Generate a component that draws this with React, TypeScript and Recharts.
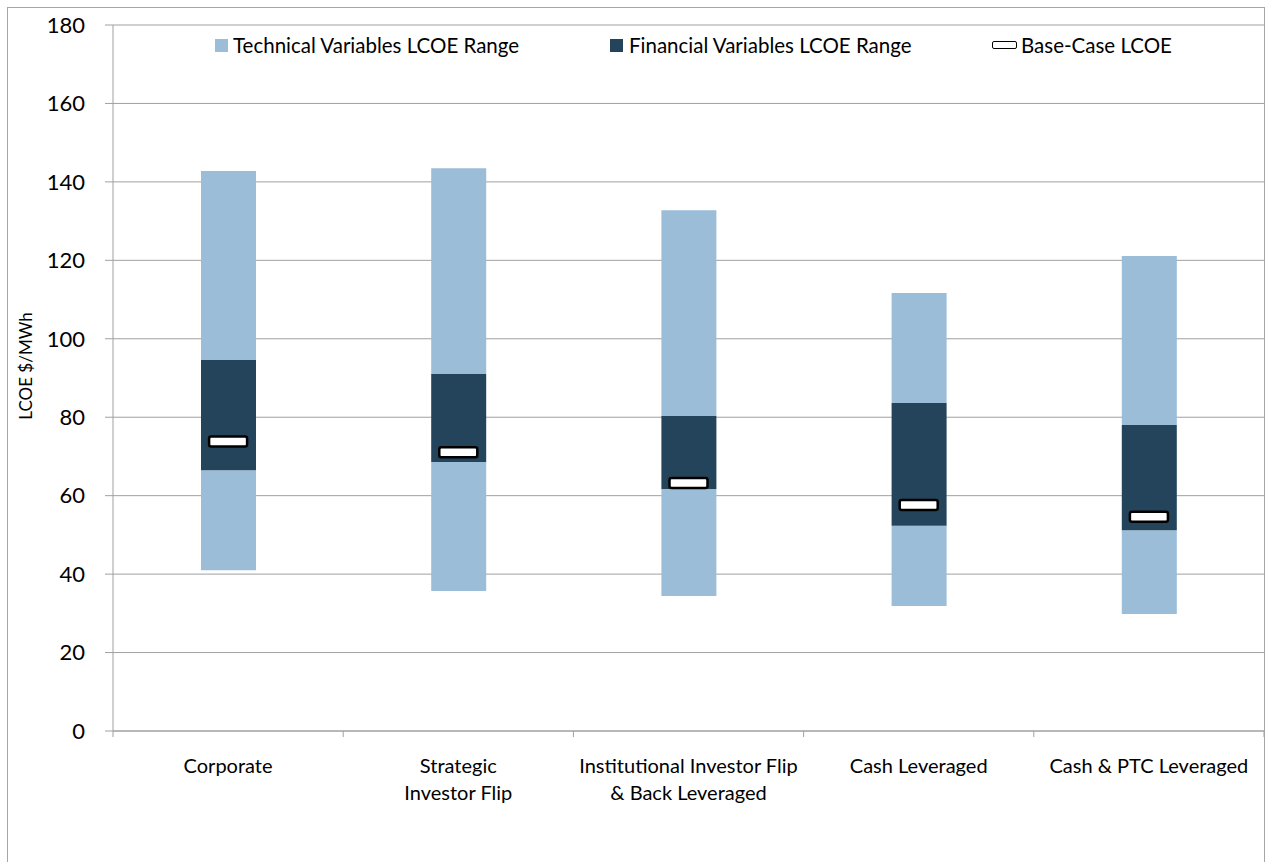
import React from 'react';
import { ComposedChart, Bar, Scatter, XAxis, YAxis, CartesianGrid } from 'recharts';

const categories = [
  'Corporate',
  'Strategic\nInvestor Flip',
  'Institutional Investor Flip\n& Back Leveraged',
  'Cash Leveraged',
  'Cash & PTC Leveraged',
];
const techLow = [41.0, 35.7, 34.4, 31.9, 29.8];
const techHigh = [142.8, 143.5, 132.8, 111.7, 121.1];
const finLow = [66.5, 68.6, 61.7, 52.3, 51.2];
const finHigh = [94.6, 91.0, 80.3, 83.6, 78.0];
const baseCase = [73.8, 71.1, 63.2, 57.6, 54.6];
const yTicks = [0, 20, 40, 60, 80, 100, 120, 140, 160, 180];

const LIGHT = '#9bbdd8';
const DARK = '#24445c';
const GRID = '#a0a0a0';
const FONT = 'Lato, "Open Sans", sans-serif';

const data = categories.map((name, i) => ({
  name,
  spacer: techLow[i],
  techBelow: finLow[i] - techLow[i],
  fin: finHigh[i] - finLow[i],
  techAbove: techHigh[i] - finHigh[i],
  base: baseCase[i],
}));

const W = 1267;
const H = 862;
const PLOT_LEFT = 113;
const PLOT_RIGHT = 1264;
const BAND = (PLOT_RIGHT - PLOT_LEFT) / categories.length;

const XTick = (props: any) => {
  const { x, y, payload, index } = props;
  const lines = String(payload.value).split('\n');
  return (
    <g>
      <line x1={x - BAND / 2} y1={y} x2={x - BAND / 2} y2={y + 6} stroke={GRID} />
      {index === categories.length - 1 && (
        <line x1={x + BAND / 2} y1={y} x2={x + BAND / 2} y2={y + 6} stroke={GRID} />
      )}
      {lines.map((l, i) => (
        <text key={i} x={x} y={y + 42 + i * 27} textAnchor="middle" fontSize={20} fill="#000" fontFamily={FONT}>
          {l}
        </text>
      ))}
    </g>
  );
};

const BaseMarker = (props: any) => {
  const { cx, cy } = props;
  if (cx == null || cy == null) return null;
  return <rect x={cx - 19} y={cy - 5} width={38} height={10} rx={2} fill="#fff" stroke="#000" strokeWidth={2.5} />;
};

const YLabel = () => (
  <text x={32} y={366} transform="rotate(-90 32 366)" textAnchor="middle" fontSize={17} fill="#000" fontFamily={FONT}>
    LCOE $/MWh
  </text>
);

const LegendBox = () => (
  <div style={{ position: 'absolute', left: 0, top: 33, width: W, height: 26, fontFamily: FONT, fontSize: 20.5, color: '#000', lineHeight: '24px' }}>
    <div style={{ position: 'absolute', left: 215, top: 6, width: 13, height: 13, background: LIGHT }} />
    <span style={{ position: 'absolute', left: 233, top: 0 }}>Technical Variables LCOE Range</span>
    <div style={{ position: 'absolute', left: 610, top: 6, width: 13, height: 13, background: DARK }} />
    <span style={{ position: 'absolute', left: 629, top: 0 }}>Financial Variables LCOE Range</span>
    <div style={{ position: 'absolute', left: 992, top: 8, width: 25, height: 8, border: '1.5px solid #000', borderRadius: 2, boxSizing: 'border-box', background: '#fff' }} />
    <span style={{ position: 'absolute', left: 1021, top: 0 }}>Base-Case LCOE</span>
  </div>
);

export default function App() {
  return (
    <div style={{ position: 'absolute', left: 0, top: 0, width: W, height: H, background: '#fff', overflow: 'hidden' }}>
      <div style={{ position: 'absolute', left: 0, top: 0 }}>
        <ComposedChart width={W} height={H} data={data} margin={{ top: 25, right: W - PLOT_RIGHT, left: 0, bottom: 0 }} barSize={55}>
          <CartesianGrid vertical={false} stroke={GRID} />
          <XAxis
            dataKey="name"
            interval={0}
            height={131}
            tickLine={false}
            tickSize={0}
            tickMargin={0}
            axisLine={{ stroke: GRID }}
            tick={<XTick />}
          />
          <YAxis
            domain={[0, 180]}
            ticks={yTicks}
            width={PLOT_LEFT}
            tickSize={8}
            tickMargin={20}
            tickLine={{ stroke: GRID }}
            axisLine={{ stroke: GRID }}
            tick={{ fontSize: 22, fill: '#000', fontFamily: FONT }}
            label={<YLabel />}
          />
          <Bar dataKey="spacer" stackId="a" fill="transparent" isAnimationActive={false} />
          <Bar dataKey="techBelow" stackId="a" fill={LIGHT} isAnimationActive={false} />
          <Bar dataKey="fin" stackId="a" fill={DARK} isAnimationActive={false} />
          <Bar dataKey="techAbove" stackId="a" fill={LIGHT} isAnimationActive={false} />
          <Scatter dataKey="base" shape={<BaseMarker />} isAnimationActive={false} />
        </ComposedChart>
      </div>
      <LegendBox />
      <div style={{ position: 'absolute', left: 7, top: 7, width: PLOT_RIGHT - 6, height: H + 20, border: '1px solid #a6a6a6', boxSizing: 'border-box', pointerEvents: 'none' }} />
    </div>
  );
}
